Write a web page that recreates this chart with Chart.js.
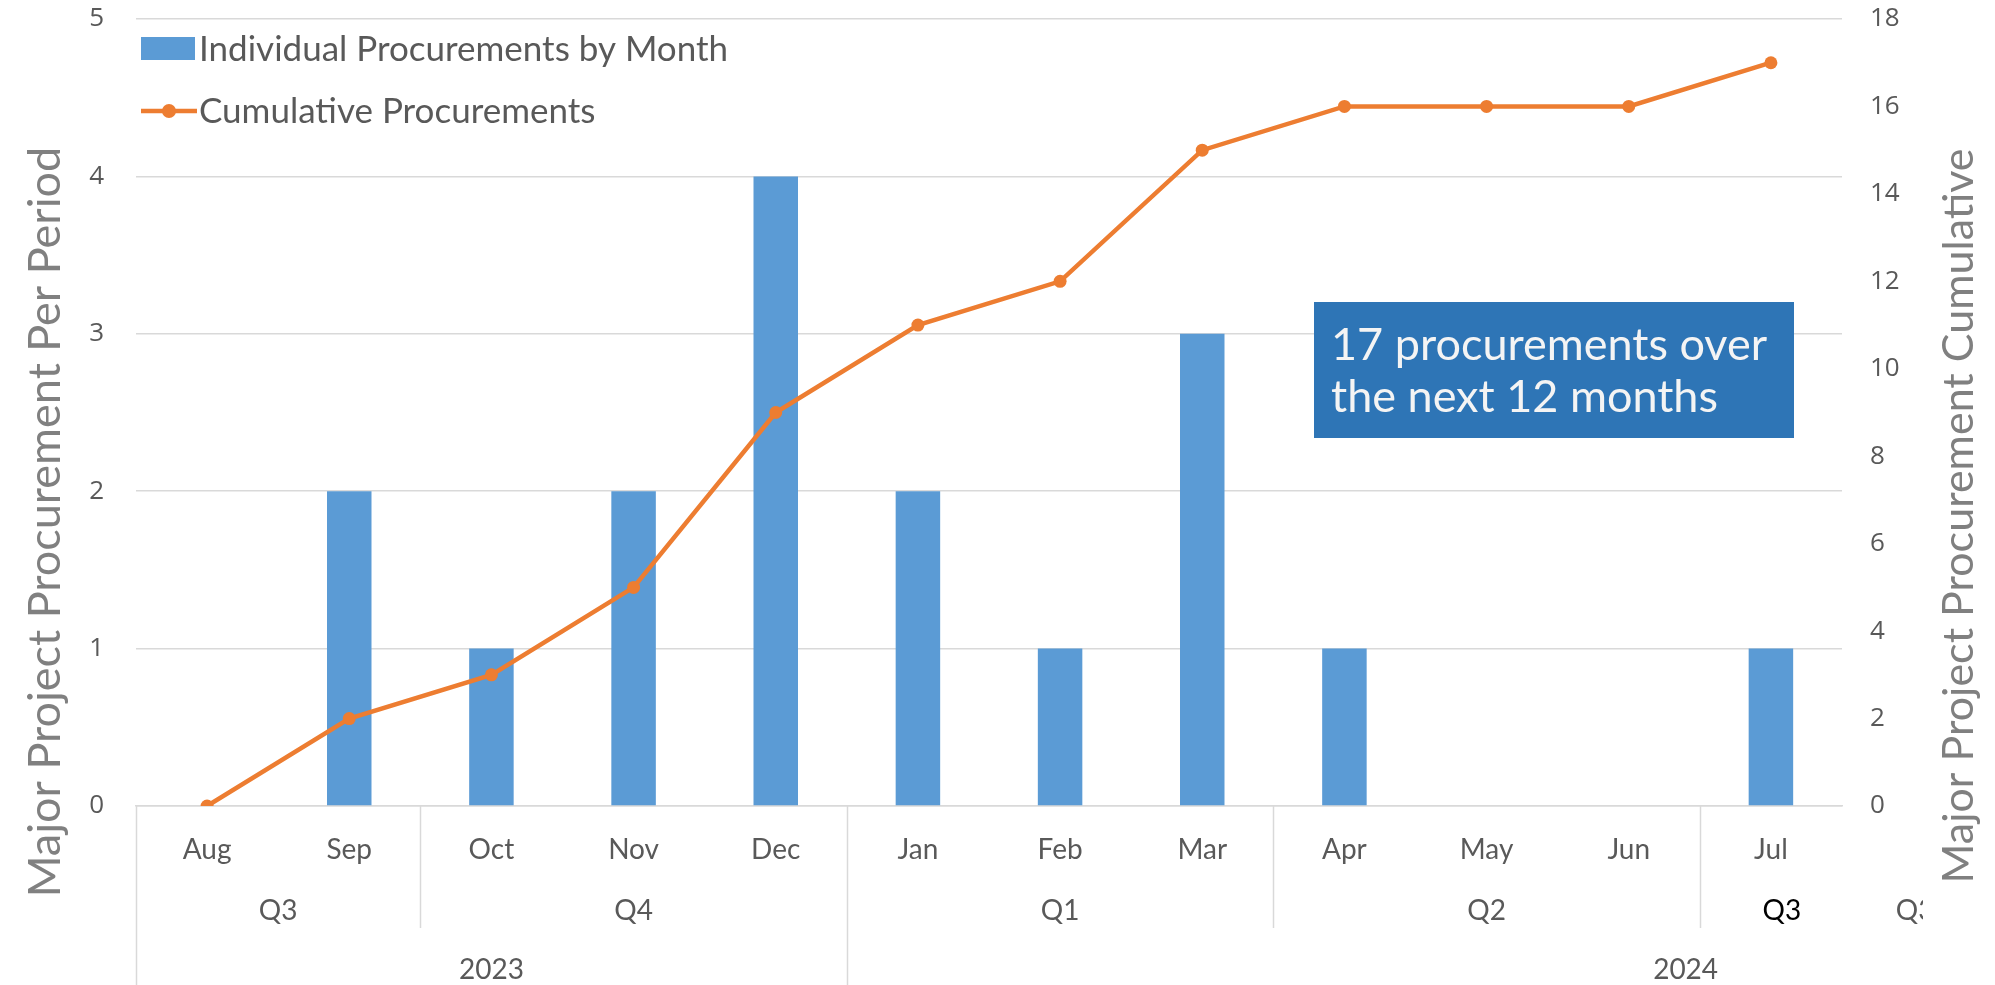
<!DOCTYPE html>
<html>
<head>
<meta charset="utf-8">
<script src="https://cdn.jsdelivr.net/npm/chart.js@4.4.1/dist/chart.umd.min.js"></script>
<style>
  html, body { margin: 0; padding: 0; background: #fff; overflow: hidden; }
  #wrap { width: 1995px; height: 985px; }
</style>
</head>
<body>
<div id="wrap"><canvas id="procChart" width="1995" height="985"></canvas></div>
<script>
// Data
const months = ["Aug", "Sep", "Oct", "Nov", "Dec", "Jan", "Feb", "Mar", "Apr", "May", "Jun", "Jul"];
const perMonth = [0, 2, 1, 2, 4, 2, 1, 3, 1, 0, 0, 1];
const cumulative = [0, 2, 3, 5, 9, 11, 12, 15, 16, 16, 16, 17];

// Quarter / year groups of the category axis (in category units)
const quarterLabels = ["Q3", "Q4", "Q1", "Q2", "Q3", "Q3"];
const quarterFrom = [0, 2, 5, 8, 11, 12];
const quarterTo = [2, 5, 8, 11, 12, 13];
const yearLabels = ["2023", "2024"];
const yearFrom = [0, 5];
const yearTo = [5, 16.8];

const leftTitle = "Major Project Procurement Per Period";
const rightTitle = "Major Project Procurement Cumulative";
const barLabel = "Individual Procurements by Month";
const lineLabel = "Cumulative Procurements";

const BLUE = "#5B9BD5";
const ORANGE = "#ED7D31";
const GRID = "#D9D9D9";
const TEXT = "#595959";
const TITLE = "#808080";
const FONT = "Lato, 'Open Sans', sans-serif";
const NUMFONT = "'Open Sans', 'Noto Sans', sans-serif";

const total = perMonth.reduce((a, b) => a + b, 0);

// no extra room for the end tick labels: the plot area is placed by hand
const fixPad = (s) => { s.paddingTop = 0; s.paddingBottom = 0; };

// draws the grouped axis levels, legend, axis titles and the callout
const extras = {
  id: "extras",
  afterDraw(chart) {
    const ctx = chart.ctx;
    const xs = chart.scales.x;
    const area = chart.chartArea;
    const w = (xs.right - xs.left) / months.length;
    const edge = (k) => xs.left + k * w;

    ctx.save();
    // separators
    ctx.strokeStyle = GRID;
    ctx.lineWidth = 1.5;
    quarterFrom.forEach((q) => {
      if (q >= months.length) return;
      const full = yearFrom.includes(q);
      const x = Math.round(edge(q)) + 0.5;
      ctx.beginPath();
      ctx.moveTo(x, area.bottom);
      ctx.lineTo(x, full ? chart.height : 928);
      ctx.stroke();
    });

    // quarter labels (the one past the last month is cut off, as in the original)
    ctx.save();
    ctx.beginPath();
    ctx.rect(0, 0, 1923, chart.height);
    ctx.clip();
    ctx.font = "28px " + FONT;
    ctx.textAlign = "center";
    ctx.textBaseline = "middle";
    quarterLabels.forEach((lab, i) => {
      const last = i === 4;
      ctx.fillStyle = last ? "#000" : TEXT;
      const cx = (edge(quarterFrom[i]) + edge(quarterTo[i])) / 2 + (last ? 11 : 0);
      ctx.fillText(lab, cx + (i === 5 ? 2 : 0), 911);
    });
    ctx.restore();

    // year labels
    ctx.font = "28px " + FONT;
    ctx.fillStyle = TEXT;
    ctx.textAlign = "center";
    ctx.textBaseline = "middle";
    yearLabels.forEach((lab, i) => {
      ctx.fillText(lab, (edge(yearFrom[i]) + edge(yearTo[i])) / 2, 970);
    });

    // legend
    ctx.fillStyle = BLUE;
    ctx.fillRect(141, 37, 54, 23);
    ctx.strokeStyle = ORANGE;
    ctx.lineWidth = 4.5;
    ctx.beginPath();
    ctx.moveTo(141, 111);
    ctx.lineTo(197, 111);
    ctx.stroke();
    ctx.fillStyle = ORANGE;
    ctx.beginPath();
    ctx.arc(169, 111, 7, 0, Math.PI * 2);
    ctx.fill();
    ctx.font = "35px " + FONT;
    ctx.fillStyle = TEXT;
    ctx.textAlign = "left";
    ctx.fillText(barLabel, 199, 50);
    ctx.fillText(lineLabel, 199, 112);

    // axis titles
    ctx.fillStyle = TITLE;
    ctx.textAlign = "center";
    ctx.font = "45px " + FONT;
    ctx.save();
    ctx.translate(45, 522);
    ctx.rotate(-Math.PI / 2);
    ctx.fillText(leftTitle, 0, 0);
    ctx.restore();
    ctx.font = "43px " + FONT;
    ctx.save();
    ctx.translate(1959, 516);
    ctx.rotate(-Math.PI / 2);
    ctx.fillText(rightTitle, 0, 0);
    ctx.restore();

    // callout box
    ctx.fillStyle = "#2E75B6";
    ctx.fillRect(1314, 302, 480, 136);
    ctx.fillStyle = "#F4F4F4";
    ctx.font = "45px " + FONT;
    ctx.textAlign = "left";
    ctx.fillText(total + " procurements over", 1331, 345);
    ctx.fillText("the next " + months.length + " months", 1331, 397);
    ctx.restore();
  }
};

new Chart(document.getElementById("procChart"), {
  data: {
    labels: months,
    datasets: [
      {
        type: "line",
        label: lineLabel,
        data: cumulative,
        yAxisID: "y2",
        borderColor: ORANGE,
        backgroundColor: ORANGE,
        borderWidth: 4.5,
        pointRadius: 6.5,
        pointBackgroundColor: ORANGE,
        pointBorderWidth: 0,
        tension: 0,
        order: 0
      },
      {
        type: "bar",
        label: barLabel,
        data: perMonth,
        yAxisID: "y",
        backgroundColor: BLUE,
        categoryPercentage: 1,
        barPercentage: 0.313,
        order: 1
      }
    ]
  },
  options: {
    responsive: false,
    animation: false,
    devicePixelRatio: 1,
    layout: { padding: { top: 19, left: 0, right: 0, bottom: 0 } },
    plugins: { legend: { display: false }, tooltip: { enabled: false } },
    scales: {
      x: {
        offset: true,
        grid: { display: false },
        border: { display: true, color: GRID, width: 1.5 },
        ticks: {
          color: TEXT,
          font: { family: FONT, size: 28 },
          padding: 19,
          maxRotation: 0,
          autoSkip: false
        },
        afterFit: (s) => { s.height = 179; }
      },
      y: {
        position: "left",
        min: 0,
        max: 5,
        ticks: { stepSize: 1, color: TEXT, font: { family: NUMFONT, size: 26 }, padding: 32 },
        grid: { color: GRID, lineWidth: 1.5, drawTicks: false },
        border: { display: false },
        afterFit: (s) => { s.width = 136; fixPad(s); }
      },
      y2: {
        position: "right",
        min: 0,
        max: 18,
        ticks: { stepSize: 2, color: TEXT, font: { family: NUMFONT, size: 26 }, padding: 28 },
        grid: { display: false, drawTicks: false },
        border: { display: false },
        afterFit: (s) => { s.width = 153; fixPad(s); }
      }
    }
  },
  plugins: [extras]
});
</script>
</body>
</html>
